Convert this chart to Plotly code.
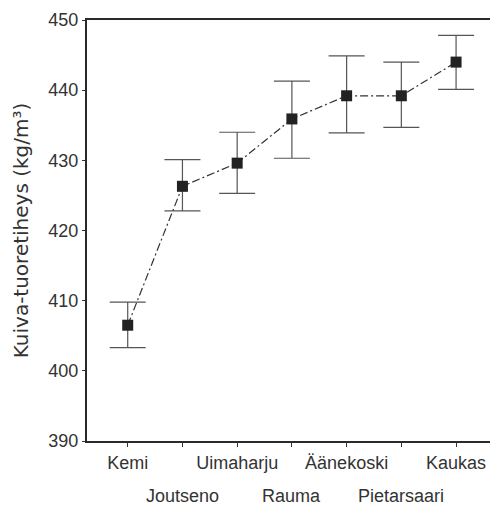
import plotly.graph_objects as go

categories = ["Kemi", "Joutseno", "Uimaharju", "Rauma", "Äänekoski", "Pietarsaari", "Kaukas"]
means = [406.5, 426.3, 429.6, 435.9, 439.2, 439.2, 444.0]
upper = [409.8, 430.1, 434.0, 441.3, 444.9, 444.0, 447.8]
lower = [403.3, 422.8, 425.3, 430.3, 433.9, 434.7, 440.1]
y_ticks = [390, 400, 410, 420, 430, 440, 450]

x_idx = list(range(len(categories)))
err_plus = [u - m for u, m in zip(upper, means)]
err_minus = [m - l for m, l in zip(means, lower)]

fig = go.Figure()
fig.add_trace(go.Scatter(
    x=x_idx, y=means, mode="lines+markers",
    line=dict(color="#333333", width=1.2, dash="8px,3px,2px,3px"),
    marker=dict(symbol="square", size=11, color="#222222"),
    error_y=dict(type="data", symmetric=False, array=err_plus, arrayminus=err_minus,
                 color="#555555", thickness=1.2, width=18),
    showlegend=False,
))

font_tick = "Liberation Sans, Arial, sans-serif"
font_title = "DejaVu Sans, sans-serif"
row1 = [c if i % 2 == 0 else "" for i, c in enumerate(categories)]

annotations = []
for i, c in enumerate(categories):
    if i % 2 == 1:
        annotations.append(dict(x=i, y=0, xref="x", yref="paper", text=c, showarrow=False,
                                yanchor="middle", yshift=-55,
                                font=dict(family=font_tick, size=18, color="#333333")))

fig.update_layout(
    width=493, height=505,
    margin=dict(l=87, r=3, t=20, b=64),
    paper_bgcolor="white", plot_bgcolor="white",
    font=dict(family=font_tick, size=18, color="#333333"),
    annotations=annotations,
    xaxis=dict(
        range=[-0.744, 6.62], tickvals=x_idx, ticktext=row1,
        showline=True, linecolor="#2a2a2a", linewidth=2, mirror=True,
        ticks="outside", ticklen=4, tickcolor="#333333",
        showgrid=False, zeroline=False,
        tickfont=dict(family=font_tick, size=18, color="#333333"),
    ),
    yaxis=dict(
        range=[390, 450], tickvals=y_ticks,
        showline=True, linecolor="#2a2a2a", linewidth=2,
        ticks="outside", ticklen=3, tickcolor="#333333",
        showgrid=False, zeroline=False,
        tickfont=dict(family=font_tick, size=18, color="#333333"),
        title=dict(text="Kuiva-tuoretiheys (kg/m³)", standoff=14,
                   font=dict(family=font_title, size=20, color="#333333")),
    ),
)

fig.write_html("out.html", config={"displayModeBar": False},
               post_script="document.body.style.margin='0';")
